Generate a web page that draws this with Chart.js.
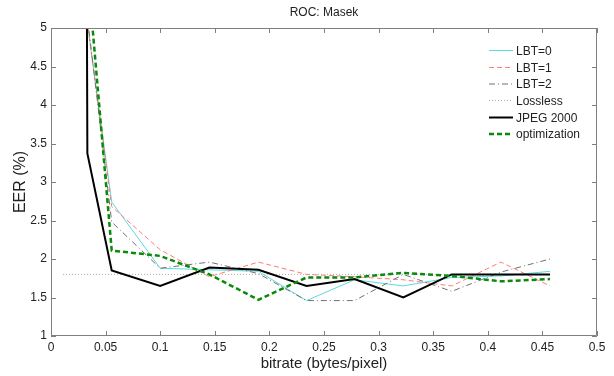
<!DOCTYPE html>
<html>
<head>
<meta charset="utf-8">
<script src="https://cdn.jsdelivr.net/npm/chart.js@4.4.0/dist/chart.umd.min.js"></script>
<style>
html, body { margin: 0; padding: 0; background: #fff; }
</style>
</head>
<body>
<canvas id="rocChart" width="614" height="376"></canvas>
<script>
// ROC: Masek - EER vs bitrate //
var bitrate = [0.032, 0.0556, 0.1, 0.145, 0.19, 0.234, 0.278, 0.3226, 0.367, 0.412, 0.457];
var jpegRate = [0.032, 0.0333, 0.0556, 0.1, 0.145, 0.19, 0.234, 0.278, 0.3226, 0.367, 0.412, 0.457];
var losslessRate = [0.011, 0.457];

var lbt0 = [5.2, 2.74, 1.88, 1.86, 1.84, 1.46, 1.73, 1.65, 1.76, 1.78, 1.84];
var lbt1 = [5.2, 2.68, 2.12, 1.77, 1.96, 1.80, 1.77, 1.73, 1.65, 1.96, 1.65];
var lbt2 = [5.3, 2.48, 1.88, 1.96, 1.81, 1.46, 1.46, 1.80, 1.58, 1.83, 2.0];
var lossless = [1.80, 1.80];
var jpeg2000 = [9.0, 3.37, 1.85, 1.65, 1.89, 1.86, 1.65, 1.74, 1.50, 1.80, 1.80, 1.80];
var optimization = [6.0, 2.11, 2.04, 1.80, 1.47, 1.76, 1.76, 1.82, 1.78, 1.71, 1.74];

var xTickLabels = ['0', '0.05', '0.1', '0.15', '0.2', '0.25', '0.3', '0.35', '0.4', '0.45', '0.5'];
var yTickLabels = ['1', '1.5', '2', '2.5', '3', '3.5', '4', '4.5', '5'];

var axisColor = '#808080';
var textColor = '#222';
var fontFamily = '"Liberation Sans", Arial, Helvetica, sans-serif';

function pts(xs, ys) {
    return xs.map(function (x, i) { return { x: x, y: ys[i] }; });
}

function line(label, xs, ys, color, width, dash, order) {
    return {
        label: label,
        data: pts(xs, ys),
        showLine: true,
        borderColor: color,
        backgroundColor: color,
        borderWidth: width,
        borderDash: dash,
        pointRadius: 0,
        tension: 0,
        fill: false,
        clip: 0,
        order: order,
    };
}

// frame, inner ticks, titles and legend like matlab //
var matlabFrame = {
    id: 'matlabFrame',
    afterDraw: function (chart) {
        var ctx = chart.ctx;
        var a = chart.chartArea;
        var xs = chart.scales.x, ys = chart.scales.y;
        ctx.save();
        ctx.strokeStyle = axisColor;
        ctx.lineWidth = 1;
        ctx.beginPath();
        ctx.rect(a.left + 0.5, a.top + 0.5, a.right - a.left - 1, a.bottom - a.top - 1);
        ctx.stroke();

        var tl = 5;
        ctx.beginPath();
        xs.ticks.forEach(function (t) {
            var px = Math.round(xs.getPixelForValue(t.value)) + 0.5;
            ctx.moveTo(px, a.bottom); ctx.lineTo(px, a.bottom - tl);
            ctx.moveTo(px, a.top); ctx.lineTo(px, a.top + tl);
        });
        ys.ticks.forEach(function (t) {
            var py = Math.round(ys.getPixelForValue(t.value)) + 0.5;
            ctx.moveTo(a.left, py); ctx.lineTo(a.left + tl, py);
            ctx.moveTo(a.right, py); ctx.lineTo(a.right - tl, py);
        });
        ctx.stroke();

        ctx.fillStyle = textColor;
        ctx.textAlign = 'center';
        ctx.textBaseline = 'middle';
        ctx.font = '12px ' + fontFamily;
        ctx.fillText('ROC: Masek', (a.left + a.right) / 2, 13);

        ctx.font = '15px ' + fontFamily;
        ctx.fillText('bitrate (bytes/pixel)', (a.left + a.right) / 2, 364);

        ctx.save();
        ctx.font = '16px ' + fontFamily;
        ctx.translate(21, (a.top + a.bottom) / 2);
        ctx.rotate(-Math.PI / 2);
        ctx.fillText('EER (%)', 0, 0);
        ctx.restore();

        // legend //
        ctx.font = '12px ' + fontFamily;
        ctx.textAlign = 'left';
        var ly = [50.5, 67.5, 84, 100.5, 117.5, 134];
        chart.data.datasets.forEach(function (ds, i) {
            ctx.save();
            ctx.strokeStyle = ds.borderColor;
            ctx.lineWidth = ds.borderWidth;
            ctx.setLineDash(ds.borderDash || []);
            ctx.beginPath();
            ctx.moveTo(489, ly[i]);
            ctx.lineTo(513, ly[i]);
            ctx.stroke();
            ctx.restore();
            ctx.fillStyle = textColor;
            ctx.fillText(ds.label, 516, ly[i] + 1);
        });
        ctx.restore();
    }
};

var ctx = document.getElementById('rocChart').getContext('2d');
var rocChart = new Chart(ctx, {
    type: 'scatter',
    data: {
        datasets: [
            line('LBT=0', bitrate, lbt0, '#5adada', 1, [], 6),
            line('LBT=1', bitrate, lbt1, '#ff7a7a', 1, [5, 3], 5),
            line('LBT=2', bitrate, lbt2, '#707070', 1, [6, 3, 1, 3], 4),
            line('Lossless', losslessRate, lossless, '#b0b0b0', 1, [1, 2], 3),
            line('JPEG 2000', jpegRate, jpeg2000, '#000000', 2, [], 2),
            line('optimization', bitrate, optimization, '#0a8a0a', 2.5, [5, 3], 1),
        ],
    },
    options: {
        responsive: false,
        animation: false,
        layout: {
            padding: { left: 0, right: 17, top: 28, bottom: 0 }
        },
        scales: {
            x: {
                type: 'linear',
                min: 0,
                max: 0.5,
                grid: { display: false, drawTicks: false },
                border: { display: false },
                ticks: {
                    stepSize: 0.05,
                    autoSkip: false,
                    maxRotation: 0,
                    padding: 4,
                    color: textColor,
                    font: { family: fontFamily, size: 12 },
                    callback: function (v, i) { return xTickLabels[i]; },
                },
                afterFit: function (s) { s.height = 40; },
            },
            y: {
                min: 1,
                max: 5,
                grid: { display: false, drawTicks: false },
                border: { display: false },
                ticks: {
                    stepSize: 0.5,
                    autoSkip: false,
                    padding: 4,
                    color: textColor,
                    font: { family: fontFamily, size: 12 },
                    callback: function (v, i) { return yTickLabels[i]; },
                },
                afterFit: function (s) { s.width = 51; },
            },
        },
        plugins: {
            legend: { display: false },
            tooltip: { enabled: false },
        }
    },
    plugins: [matlabFrame]
});
</script>
</body>
</html>
